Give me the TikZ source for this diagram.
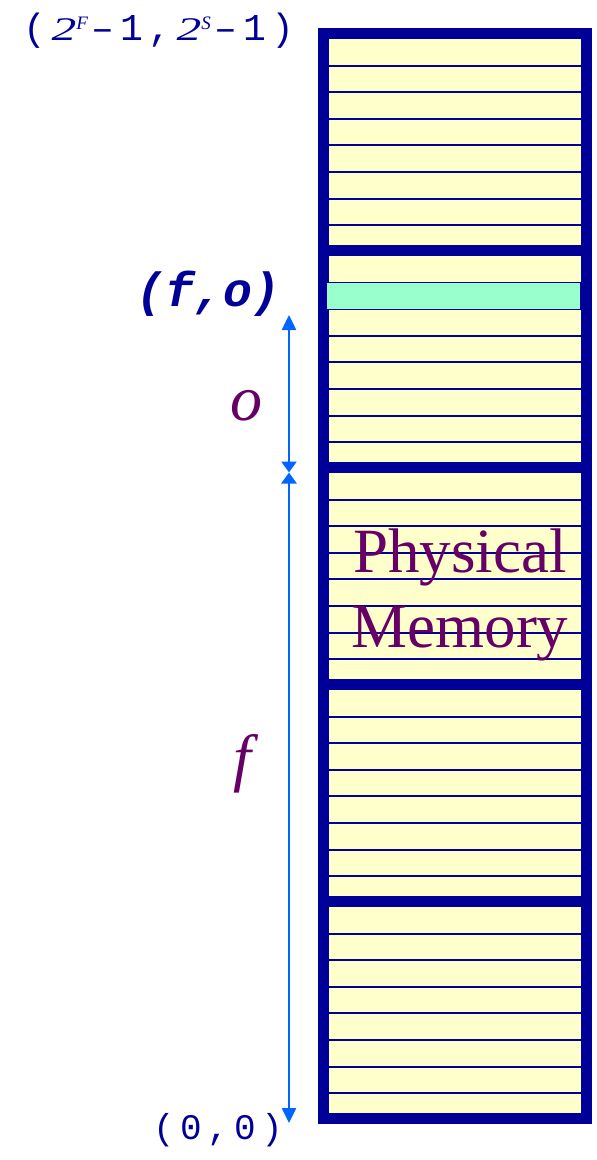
\documentclass[tikz,border=0pt]{standalone}
\usepackage{fontspec}
\usepackage{graphicx}
\usetikzlibrary{arrows.meta}
\newfontfamily\memmono[LetterSpace=15]{Liberation Mono}
\newfontfamily\memmonotight{Liberation Mono}
\newfontfamily\memserif{Liberation Serif}
\definecolor{memFrame}{RGB}{0,0,153}
\definecolor{memRow}{RGB}{255,255,204}
\definecolor{memHit}{RGB}{153,255,204}
\definecolor{memArrow}{RGB}{0,102,255}
\definecolor{memText}{RGB}{102,0,102}
\newcommand{\memPow}[1]{{\memserif\itshape\fontsize{33}{33}\selectfont\hspace{5pt}\scalebox{1.5}[1]{2}\raisebox{11pt}{\fontsize{19}{19}\selectfont #1}\hspace{4pt}}}
\begin{document}
\begin{tikzpicture}[x=1pt, y=-1pt,
  rowline/.style={draw=memFrame, line width=2pt},
  pageline/.style={draw=memFrame, line width=11pt},
  dimarrow/.style={draw=memArrow, line width=2.5pt},
  coordlabel/.style={inner sep=0pt, text=memFrame, anchor=east},
  varlabel/.style={inner sep=0pt, text=memText, font=\memserif\itshape\fontsize{64}{64}\selectfont}]
% Page size in pixels of the slide
\useasboundingbox (0,0) rectangle (597,1160);
% Memory column: background
\fill[memRow] (324,33.5) rectangle (586,1118.5);
% Rows, seven per frame
\begin{scope}[rowline]
  % frame 4 (top)
  \draw (324,65.6) -- (586,65.6);
  \draw (324,92.2) -- (586,92.2);
  \draw (324,118.8) -- (586,118.8);
  \draw (324,145.4) -- (586,145.4);
  \draw (324,172.0) -- (586,172.0);
  \draw (324,198.6) -- (586,198.6);
  \draw (324,225.2) -- (586,225.2);
  % frame 3
  \draw (324,282.6) -- (586,282.6);
  \draw (324,309.2) -- (586,309.2);
  \draw (324,335.8) -- (586,335.8);
  \draw (324,362.4) -- (586,362.4);
  \draw (324,389.0) -- (586,389.0);
  \draw (324,415.6) -- (586,415.6);
  \draw (324,442.2) -- (586,442.2);
  % frame 2
  \draw (324,499.6) -- (586,499.6);
  \draw (324,526.2) -- (586,526.2);
  \draw (324,552.8) -- (586,552.8);
  \draw (324,579.4) -- (586,579.4);
  \draw (324,606.0) -- (586,606.0);
  \draw (324,632.6) -- (586,632.6);
  \draw (324,659.2) -- (586,659.2);
  % frame 1
  \draw (324,716.6) -- (586,716.6);
  \draw (324,743.2) -- (586,743.2);
  \draw (324,769.8) -- (586,769.8);
  \draw (324,796.4) -- (586,796.4);
  \draw (324,823.0) -- (586,823.0);
  \draw (324,849.6) -- (586,849.6);
  \draw (324,876.2) -- (586,876.2);
  % frame 0
  \draw (324,933.6) -- (586,933.6);
  \draw (324,960.2) -- (586,960.2);
  \draw (324,986.8) -- (586,986.8);
  \draw (324,1013.4) -- (586,1013.4);
  \draw (324,1040.0) -- (586,1040.0);
  \draw (324,1066.6) -- (586,1066.6);
  \draw (324,1093.2) -- (586,1093.2);
\end{scope}
% Outer frame and page separators
\begin{scope}[pageline]
  \draw (323.8,33.7) rectangle (586.2,1118.7);
  \draw (318.3,250.5) -- (591.7,250.5);
  \draw (318.3,467.5) -- (591.7,467.5);
  \draw (318.3,684.5) -- (591.7,684.5);
  \draw (318.3,901.5) -- (591.7,901.5);
\end{scope}
% Addressed row
\filldraw[fill=memHit, draw=memFrame, line width=1pt] (326,282.6) rectangle (580,309.2);
% Offset and frame arrows
\coordinate (otop) at (289,315);
\coordinate (omid) at (289,472.5);
\coordinate (fbot) at (289,1123);
\draw[dimarrow, {Triangle[length=15pt,width=14pt]}-{Triangle[length=11pt,width=15pt]}] (otop) -- (omid);
\draw[dimarrow, {Triangle[length=11pt,width=15pt]}-{Triangle[length=15pt,width=14pt]}] (omid) -- (fbot);
% Labels
\node[coordlabel, font=\memmono\fontsize{38}{38}\selectfont] (topaddr) at (295,31) {(\memPow{F}–1,\memPow{S}–1)};
\node[coordlabel, font=\memmonotight\bfseries\itshape\fontsize{48}{48}\selectfont] (pageaddr) at (281,293.5) {(f,o)};
\node[coordlabel, font=\memmono\fontsize{36}{36}\selectfont] (origin) at (283,1130.5) {(0,0)};
\node[varlabel] (offlabel) at (246,406) {o};
\node[varlabel] (framelabel) at (242,764) {f};
\node[inner sep=0pt, text=memText, align=center, font=\memserif\fontsize{63}{75}\selectfont] (memlabel) at (460,594.5) {Physical\\Memory};
\end{tikzpicture}
\end{document}
